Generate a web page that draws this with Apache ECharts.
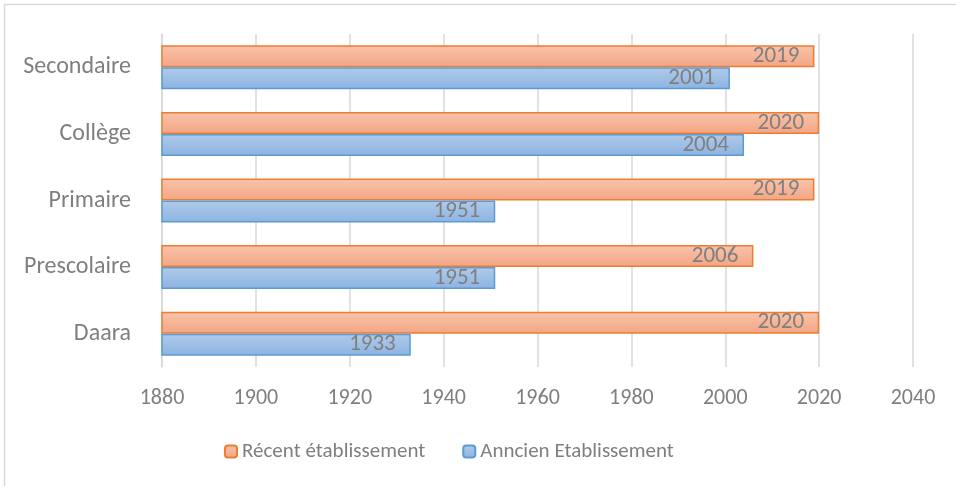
<!DOCTYPE html>
<html><head><meta charset="utf-8">
<script src="https://cdn.jsdelivr.net/npm/echarts@6/dist/echarts.min.js"></script>
<style>html,body{margin:0;padding:0;background:#fff}#c{width:956px;height:486px}</style>
</head><body><div id="c"></div>
<script>
const categories = ['Daara', 'Prescolaire', 'Primaire', 'Collège', 'Secondaire'];
const recent = [2020, 2006, 2019, 2020, 2019];
const ancien = [1933, 1951, 1951, 2004, 2001];
const seriesNames = ['Récent établissement', 'Anncien Etablissement'];

const font = 'Calibri, Carlito, "Open Sans", sans-serif';
const chart = echarts.init(document.getElementById('c'), null, {renderer: 'canvas'});
function grad(a, b) {
  return new echarts.graphic.LinearGradient(0, 0, 0, 1, [{offset: 0, color: a}, {offset: 1, color: b}]);
}
const lbl = {show: true, position: 'insideRight', distance: 15, color: '#7f7f7f', fontSize: 23, fontFamily: font};
chart.setOption({
  animation: false,
  graphic: [{
    type: 'rect', shape: {x: 4.5, y: 4.5, width: 1000, height: 600},
    style: {fill: 'none', stroke: '#d9d9d9', lineWidth: 1.5}, silent: true
  }],
  grid: {left: 162, right: 43, top: 34, bottom: 119, containLabel: false},
  legend: {
    data: seriesNames, top: 436, left: 219, itemWidth: 12, itemHeight: 12, itemGap: 37,
    textStyle: {color: '#7f7f7f', fontSize: 21, fontFamily: font}
  },
  xAxis: {
    type: 'value', min: 1880, max: 2040, interval: 20,
    axisLine: {show: false}, axisTick: {show: false},
    splitLine: {lineStyle: {color: '#d9d9d9', width: 1.5}},
    axisLabel: {color: '#7f7f7f', fontSize: 22, fontFamily: font, margin: 20, formatter: v => String(v)}
  },
  yAxis: {
    type: 'category', data: categories,
    axisLine: {lineStyle: {color: '#d9d9d9', width: 1.5}}, axisTick: {show: false},
    axisLabel: {color: '#7f7f7f', fontSize: 24, fontFamily: font, margin: 31}
  },
  series: [
    {
      name: seriesNames[0], type: 'bar', data: recent, barGap: '0%', barCategoryGap: '34%',
      itemStyle: {color: grad('#f8c4ab', '#f3a584'), borderColor: '#ed7d31', borderWidth: 1.5},
      label: lbl
    },
    {
      name: seriesNames[1], type: 'bar', data: ancien, barGap: '0%', barCategoryGap: '34%',
      itemStyle: {color: grad('#b0cbea', '#8cb3e1'), borderColor: '#5b9bd5', borderWidth: 1.5},
      label: lbl
    }
  ]
});
</script></body></html>
